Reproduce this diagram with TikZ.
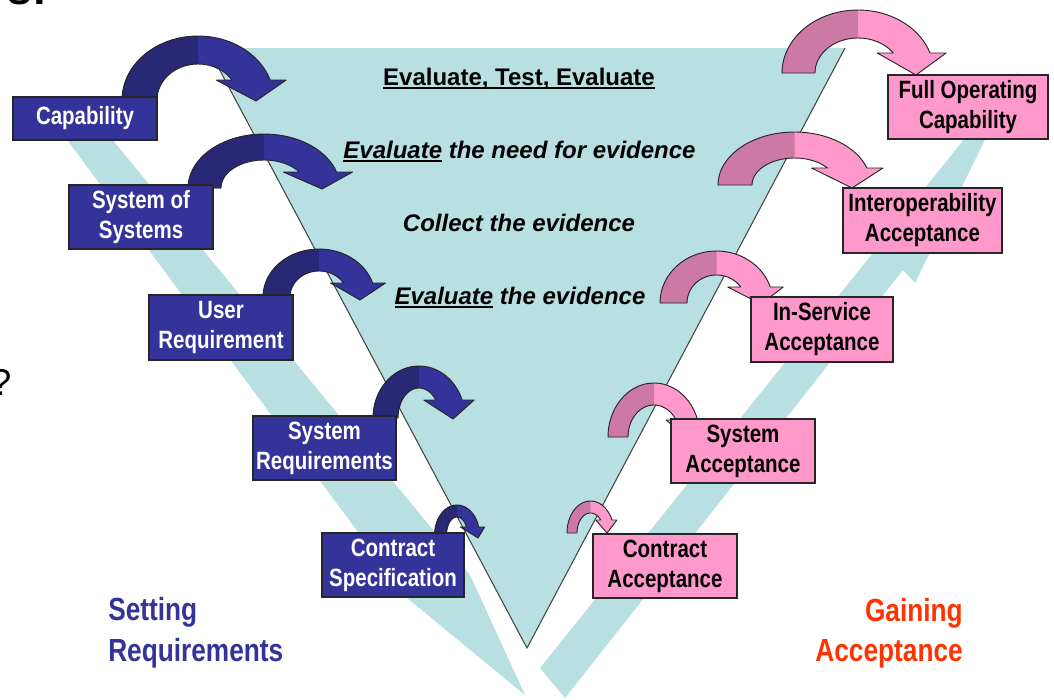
\documentclass[tikz,border=0pt]{standalone}
\usepackage{fontspec}
\setmainfont{Liberation Sans}
\newfontfamily\nar{Liberation Sans}[FakeStretch=0.82]
\definecolor{cyanband}{RGB}{184,224,227}
\definecolor{bluebox}{RGB}{51,51,153}
\definecolor{bluedark}{RGB}{40,40,118}
\definecolor{pinkbox}{RGB}{255,153,204}
\definecolor{pinkdark}{RGB}{204,122,163}
\definecolor{orangetxt}{RGB}{255,51,0}
\definecolor{edgegray}{RGB}{70,70,70}
\newcommand\ulx[1]{\setbox0=\hbox{#1}\rlap{\rule[-3pt]{\wd0}{1.4pt}}\box0\relax}
% curved arrow: cx cy rxo ryo rxi ryi H ext tip
\newcommand\carrow[9]{%
 \pgfmathsetmacro\ao{asin((#2-#7)/#4)}%
 \pgfmathsetmacro\ai{asin((#2-#7)/#6)}%
 \pgfmathsetmacro\xo{#1+#3*cos(\ao)}%
 \pgfmathsetmacro\xi{#1+#5*cos(\ai)}%
 \pgfmathsetmacro\xr{\xo+#8}%
 \pgfmathsetmacro\xl{\xi-#8}%
 \fill[fill=arrL] ({#1-#3},#2) -- plot[domain=180:\ao,samples=40] ({#1+#3*cos(\x)},{#2-#4*sin(\x)}) -- (\xr,#7) -- #9 -- (\xl,#7) -- plot[domain=\ai:180,samples=40] ({#1+#5*cos(\x)},{#2-#6*sin(\x)}) -- cycle;
 \fill[fill=arrD] ({#1-#3},#2) -- plot[domain=180:90,samples=30] ({#1+#3*cos(\x)},{#2-#4*sin(\x)}) -- plot[domain=90:180,samples=30] ({#1+#5*cos(\x)},{#2-#6*sin(\x)}) -- cycle;
 \draw[arrowline] ({#1-#3},#2) -- plot[domain=180:\ao,samples=40] ({#1+#3*cos(\x)},{#2-#4*sin(\x)}) -- (\xr,#7) -- #9 -- (\xl,#7) -- plot[domain=\ai:180,samples=40] ({#1+#5*cos(\x)},{#2-#6*sin(\x)}) -- cycle;
}
\begin{document}
\begin{tikzpicture}[x=0.75pt,y=-0.75pt,
  arrowline/.style={draw=black!85, line width=0.7pt, line join=round},
  bbox/.style={draw=black!85, line width=1pt, fill=bluebox, text=white, font=\nar\bfseries\fontsize{18.75}{22.5}\selectfont, align=center, inner sep=0pt},
  pbox/.style={draw=black!85, line width=1pt, fill=pinkbox, text=black, font=\nar\bfseries\fontsize{18.75}{22.5}\selectfont, align=center, inner sep=0pt},
  tritext/.style={font=\bfseries\fontsize{18}{22}\selectfont, anchor=base, inner sep=0pt},
  sidelabel/.style={font=\nar\bfseries\fontsize{24}{30}\selectfont, inner sep=0pt}]
\useasboundingbox (0,0) rectangle (1054,700);
\fill[white] (0,0) rectangle (1054,700);
\begin{scope}
\clip (0,0) rectangle (1054,700);
% partial texts at the edges
\node[font=\bfseries\fontsize{33}{36}\selectfont, anchor=base east, inner sep=0pt] (cut) at (47,4) {s:};
\node[font=\fontsize{28}{30}\selectfont, anchor=base, inner sep=0pt] (q) at (1,395) {?};
% bands
\fill[cyanband] (45,110) -- (88,110) -- (470,575) -- (525,695) -- (407,598) -- cycle;
\fill[cyanband] (540,668) -- (1018,72) -- (915,283) -- (903,270) -- (565,698) -- cycle;
% triangle
\coordinate (tl) at (208,48);
\coordinate (tr) at (845,48);
\coordinate (tb) at (527,648);
\fill[cyanband] (tl) -- (tr) -- (tb) -- cycle;
\draw[edgegray, line width=0.8pt] (tl) -- (tb) -- (tr);
% triangle texts
\node[tritext] (t1) at (519,85) {\ulx{Evaluate, Test, Evaluate}};
\node[tritext] (t2) at (519.5,158) {\itshape\ulx{Evaluate} the need for evidence};
\node[tritext] (t3) at (519,231) {\itshape Collect the evidence};
\node[tritext] (t4) at (520,304) {\itshape\ulx{Evaluate} the evidence};
% blue curved arrows
\colorlet{arrL}{bluebox}\colorlet{arrD}{bluedark}
\carrow{198}{100}{76}{64}{41}{36}{80}{16}{(256,101)}
\carrow{264}{188}{76}{54}{43}{28}{172}{16}{(322,189)}
\carrow{319}{297}{56}{48}{29}{26}{283}{13}{(360,300)}
\carrow{419}{418}{46}{52}{21}{30}{400}{12}{(453,419)}
\carrow{457}{535}{22.5}{30}{10.5}{18}{527}{6}{(478,538)}
% pink curved arrows
\colorlet{arrL}{pinkbox}\colorlet{arrD}{pinkdark}
\carrow{858}{73}{76}{63}{43}{35}{53}{16}{(916,75)}
\carrow{794.5}{185}{76.5}{53}{42.5}{27}{168}{16}{(852,188)}
\carrow{716.5}{303}{56.5}{52}{29.5}{28}{287}{13}{(761,304)}
\carrow{654}{437}{46}{54}{26}{32}{420}{10}{(688,438)}
\carrow{590.5}{533}{23.5}{32}{13.5}{20}{520}{5}{(607,533)}
% blue boxes
\node[bbox, minimum width=108pt, minimum height=32.25pt] (cap) at (85,118.5) {Capability};
\node[bbox, minimum width=108pt, minimum height=48pt] (sos) at (141,217) {System of\\Systems};
\node[bbox, minimum width=108pt, minimum height=48.75pt] (ur) at (221,327.5) {User\\Requirement};
\node[bbox, minimum width=107.25pt, minimum height=48pt] (sr) at (324.5,448) {System\\Requirements};
\node[bbox, minimum width=106.5pt, minimum height=48pt] (cs) at (393,565) {Contract\\Specification};
% pink boxes
\node[pbox, minimum width=120pt, minimum height=48pt] (foc) at (968,107) {Full Operating\\Capability};
\node[pbox, minimum width=119.25pt, minimum height=48.75pt] (ia) at (922.5,220.5) {Interoperability\\Acceptance};
\node[pbox, minimum width=106.5pt, minimum height=48.75pt] (isa) at (822,329.5) {In-Service\\Acceptance};
\node[pbox, minimum width=108pt, minimum height=48pt] (sa) at (743,451) {System\\Acceptance};
\node[pbox, minimum width=108pt, minimum height=48pt] (ca) at (665,566) {Contract\\Acceptance};
% side labels
\node[sidelabel, anchor=base west, text=bluebox] (setting) at (108,620) {Setting};
\node[sidelabel, anchor=base west, text=bluebox] (setreq) at (108,661) {Requirements};
\node[sidelabel, anchor=base east, text=orangetxt] (gain) at (963,621) {Gaining};
\node[sidelabel, anchor=base east, text=orangetxt] (gainacc) at (963,661) {Acceptance};
\end{scope}
\end{tikzpicture}
\end{document}
